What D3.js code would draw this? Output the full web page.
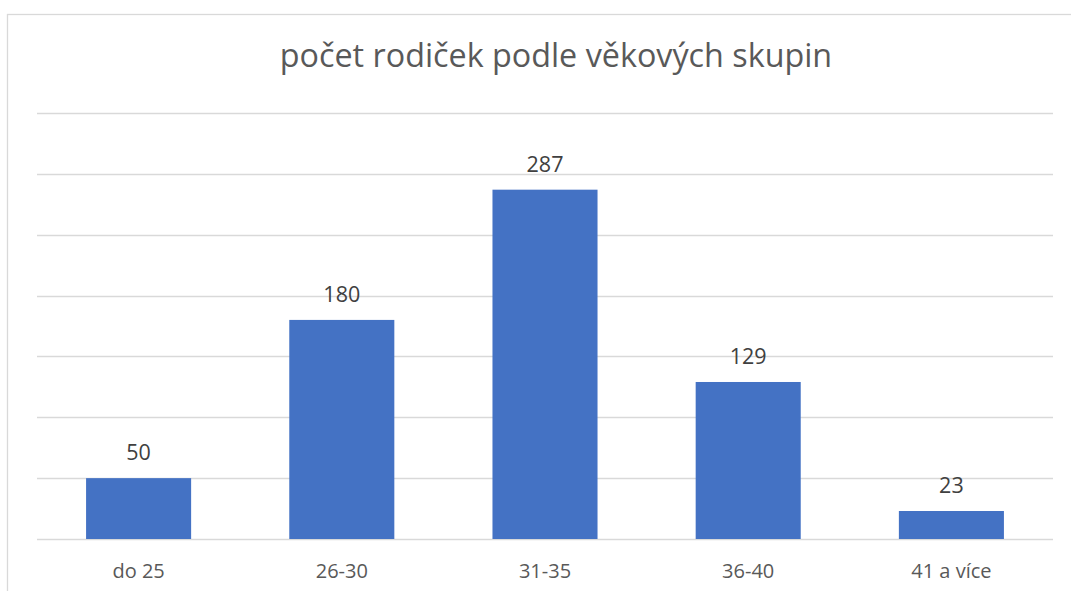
<!DOCTYPE html>
<html>
<head>
<meta charset="utf-8">
<script src="https://cdn.jsdelivr.net/npm/d3@7"></script>
<style>
  body { margin: 0; background: #fff; }
  svg { display: block; font-family: "Open Sans", sans-serif; }
</style>
</head>
<body>
<div id="chart"></div>
<script>
// data
var categories = ["do 25", "26-30", "31-35", "36-40", "41 a více"];
var values = [50, 180, 287, 129, 23];
var gridTicks = [0, 50, 100, 150, 200, 250, 300, 350];
var title = "počet rodiček podle věkových skupin";

var width = 1071, height = 591;
var plot = {left: 37, right: 1053, top: 113, bottom: 539};

var svg = d3.select("#chart").append("svg")
    .attr("width", width)
    .attr("height", height);

// chart frame (runs past the window on the right and bottom)
svg.append("rect")
    .attr("x", 7.5).attr("y", 14.5)
    .attr("width", 1098).attr("height", 620)
    .attr("fill", "#fff")
    .attr("stroke", "#d9d9d9")
    .attr("stroke-width", 1.3);

var x = d3.scaleBand()
    .domain(categories)
    .range([plot.left, plot.right])
    .paddingInner(0.483)
    .paddingOuter(0.2415);

var y = d3.scaleLinear()
    .domain([0, 350])
    .range([plot.bottom, plot.top]);

// gridlines
svg.append("g").selectAll("line")
    .data(gridTicks)
    .enter().append("line")
    .attr("x1", plot.left)
    .attr("x2", plot.right)
    .attr("y1", function(d) { return Math.round(y(d)) + 0.5; })
    .attr("y2", function(d) { return Math.round(y(d)) + 0.5; })
    .attr("stroke", "#d9d9d9")
    .attr("stroke-width", 1.3);

// bars
svg.append("g").selectAll("rect")
    .data(values)
    .enter().append("rect")
    .attr("x", function(d, i) { return x(categories[i]); })
    .attr("y", function(d) { return y(d); })
    .attr("width", x.bandwidth())
    .attr("height", function(d) { return y(0) - y(d); })
    .attr("fill", "#4472c4");

// value labels
svg.append("g").selectAll("text")
    .data(values)
    .enter().append("text")
    .attr("x", function(d, i) { return x(categories[i]) + x.bandwidth() / 2; })
    .attr("y", function(d) { return y(d) - 18; })
    .attr("text-anchor", "middle")
    .attr("font-size", 21.5)
    .attr("fill", "#404040")
    .text(function(d) { return d; });

// category labels
svg.append("g").selectAll("text")
    .data(categories)
    .enter().append("text")
    .attr("x", function(d) { return x(d) + x.bandwidth() / 2; })
    .attr("y", 578)
    .attr("text-anchor", "middle")
    .attr("font-size", 20)
    .attr("fill", "#595959")
    .text(function(d) { return d; });

// title
svg.append("text")
    .attr("x", 556)
    .attr("y", 67)
    .attr("text-anchor", "middle")
    .attr("font-size", 32.3)
    .attr("fill", "#595959")
    .text(title);
</script>
</body>
</html>
